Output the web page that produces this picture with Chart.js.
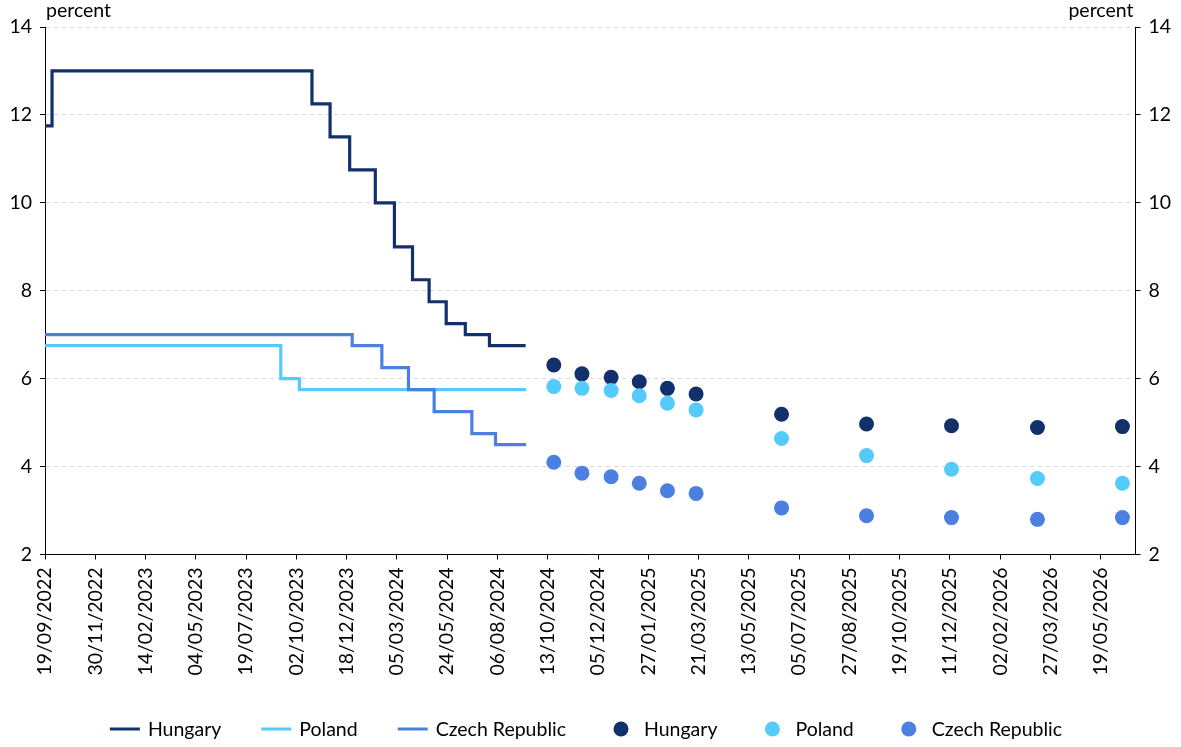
<!DOCTYPE html>
<html>
<head>
<meta charset="utf-8">
<script src="https://cdn.jsdelivr.net/npm/chart.js@4.4.1/dist/chart.umd.min.js"></script>
<style>
  html, body { margin: 0; padding: 0; background: #fff; }
</style>
</head>
<body>
<canvas id="chart" width="1181" height="747"></canvas>
<script>
// x values are in "label units": 0 = first date label, 1 = the next one, ...
const xLabels = ['19/09/2022', '30/11/2022', '14/02/2023', '04/05/2023', '19/07/2023', '02/10/2023',
    '18/12/2023', '05/03/2024', '24/05/2024', '06/08/2024', '13/10/2024', '05/12/2024', '27/01/2025',
    '21/03/2025', '13/05/2025', '05/07/2025', '27/08/2025', '19/10/2025', '11/12/2025', '02/02/2026',
    '27/03/2026', '19/05/2026'];

// policy rate history (each point = date of change, new rate; last point = end of data)
const hungaryStepX = [0, 0.14, 5.31, 5.67, 6.06, 6.57, 6.95, 7.31, 7.64, 7.98, 8.36, 8.84, 9.56];
const hungaryStepY = [11.75, 13, 12.25, 11.5, 10.75, 10, 9, 8.25, 7.75, 7.25, 7, 6.75, 6.75];
const polandStepX = [0, 4.69, 5.06, 9.57];
const polandStepY = [6.75, 6, 5.75, 5.75];
const czechStepX = [0, 6.11, 6.70, 7.23, 7.74, 8.49, 8.96, 9.57];
const czechStepY = [7, 6.75, 6.25, 5.75, 5.25, 4.75, 4.5, 4.5];

// expectations
const forecastX = [10.12, 10.68, 11.26, 11.82, 12.38, 12.95, 14.65, 16.34, 18.03, 19.74, 21.43];
const hungaryForecast = [6.31, 6.11, 6.03, 5.93, 5.78, 5.65, 5.19, 4.97, 4.93, 4.89, 4.91];
const polandForecast = [5.82, 5.78, 5.73, 5.61, 5.44, 5.29, 4.64, 4.25, 3.94, 3.73, 3.62];
const czechForecast = [4.10, 3.85, 3.77, 3.62, 3.45, 3.39, 3.06, 2.88, 2.84, 2.80, 2.84];

const xMax = 21.69;
const colHungary = '#12316b';
const colPoland = '#55cbfd';
const colCzech = '#4b7fe0';
const font = { family: 'Lato', size: 19.5 };

const toPoints = (xs, ys) => xs.map((x, i) => ({ x: x, y: ys[i] }));

const stepLine = (label, xs, ys, color, order) => ({
    label: label,
    data: toPoints(xs, ys),
    borderColor: color,
    backgroundColor: color,
    borderWidth: 3.2,
    pointRadius: 0,
    stepped: true,
    borderJoinStyle: 'miter',
    fill: false,
    order: order
});

const dots = (label, ys, color, order) => ({
    type: 'scatter',
    label: label,
    data: toPoints(forecastX, ys),
    backgroundColor: color,
    borderColor: color,
    borderWidth: 0,
    pointRadius: 7.5,
    pointHoverRadius: 7.5,
    order: order
});

// "percent" captions and the legend row at the bottom
const extras = {
    id: 'extras',
    afterDraw(chart) {
        const ctx = chart.ctx;
        const area = chart.chartArea;
        ctx.save();
        ctx.fillStyle = '#000';
        ctx.font = font.size + 'px ' + font.family;
        ctx.textBaseline = 'alphabetic';
        ctx.textAlign = 'left';
        ctx.fillText('percent', area.left + 1, 17);
        ctx.textAlign = 'right';
        ctx.fillText('percent', area.right - 2, 17);

        const items = chart.data.datasets.map(ds => ({
            label: ds.label,
            color: ds.borderColor,
            dot: ds.type === 'scatter'
        }));
        const box = 30, gap = 8, spacing = 40;
        const widths = items.map(it => box + gap + ctx.measureText(it.label).width);
        const total = widths.reduce((a, b) => a + b, 0) + spacing * (items.length - 1);
        let x = 586 - total / 2;
        const cy = 729;
        ctx.textAlign = 'left';
        ctx.textBaseline = 'middle';
        items.forEach((it, i) => {
            if (it.dot) {
                ctx.fillStyle = it.color;
                ctx.beginPath();
                ctx.arc(x + box / 2, cy, 7.5, 0, Math.PI * 2);
                ctx.fill();
            } else {
                ctx.strokeStyle = it.color;
                ctx.lineWidth = 3;
                ctx.beginPath();
                ctx.moveTo(x, cy);
                ctx.lineTo(x + box, cy);
                ctx.stroke();
            }
            ctx.fillStyle = '#000';
            ctx.fillText(it.label, x + box + gap, cy + 1);
            x += widths[i] + spacing;
        });
        ctx.restore();
    }
};

new Chart(document.getElementById('chart'), {
    type: 'line',
    data: {
        datasets: [
            stepLine('Hungary', hungaryStepX, hungaryStepY, colHungary, 6),
            stepLine('Poland', polandStepX, polandStepY, colPoland, 5),
            stepLine('Czech Republic', czechStepX, czechStepY, colCzech, 4),
            dots('Hungary', hungaryForecast, colHungary, 3),
            dots('Poland', polandForecast, colPoland, 2),
            dots('Czech Republic', czechForecast, colCzech, 1)
        ]
    },
    options: {
        responsive: false,
        animation: false,
        layout: { padding: { top: 27, left: 0, right: 0, bottom: 0 } },
        plugins: {
            legend: { display: false },
            tooltip: { enabled: false }
        },
        scales: {
            x: {
                type: 'linear',
                min: 0,
                max: xMax,
                afterBuildTicks: (scale) => {
                    scale.ticks = xLabels.map((_, i) => ({ value: i }));
                },
                afterFit: (scale) => { scale.height = 192.5; },
                ticks: {
                    autoSkip: false,
                    minRotation: 90,
                    maxRotation: 90,
                    padding: 8,
                    color: '#000',
                    font: font,
                    callback: (value, index) => xLabels[index]
                },
                grid: { drawOnChartArea: false, tickColor: '#000', tickLength: 5 },
                border: { color: '#000' }
            },
            y: {
                position: 'left',
                min: 2,
                max: 14,
                afterFit: (scale) => { scale.width = 45; },
                ticks: { stepSize: 2, padding: 8, color: '#000', font: font },
                grid: {
                    color: (c) => c.tick && c.tick.value === 2 ? 'rgba(0,0,0,0)' : '#d9d9d9',
                    tickColor: '#000',
                    tickLength: 5
                },
                border: { color: '#000', dash: [4, 4] }
            },
            y2: {
                position: 'right',
                min: 2,
                max: 14,
                afterFit: (scale) => { scale.width = 45.5; },
                ticks: { stepSize: 2, padding: 8, color: '#000', font: font },
                grid: { drawOnChartArea: false, tickColor: '#000', tickLength: 5 },
                border: { color: '#000' }
            }
        }
    },
    plugins: [extras]
});
</script>
</body>
</html>
